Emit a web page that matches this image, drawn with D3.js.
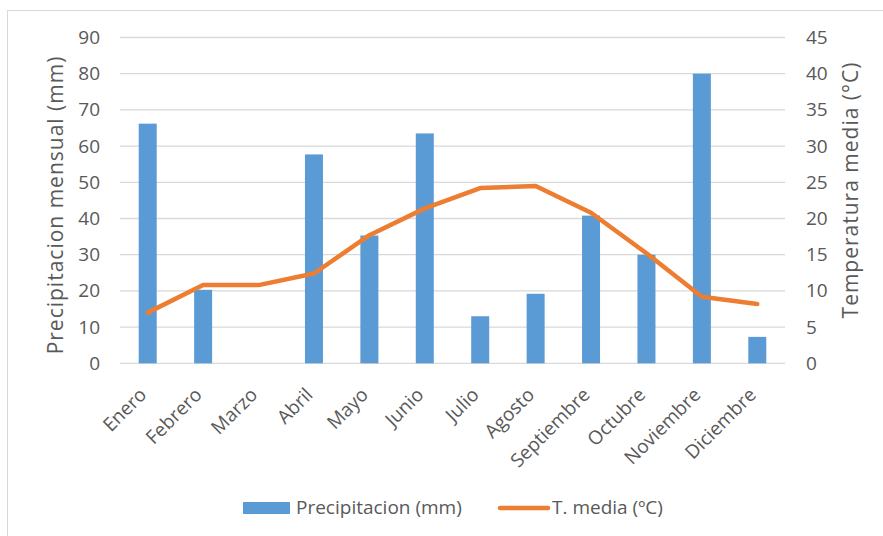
<!DOCTYPE html>
<html><head><meta charset="utf-8">
<script src="https://cdn.jsdelivr.net/npm/d3@7"></script>
<style>body{margin:0;background:#fff}svg{display:block}text{font-family:"Open Sans",sans-serif;fill:#595959}</style>
</head><body>
<script>
const months = ["Enero","Febrero","Marzo","Abril","Mayo","Junio","Julio","Agosto","Septiembre","Octubre","Noviembre","Diciembre"];
const precip = [66.2,20.3,0,57.7,35.3,63.5,13.0,19.2,40.8,30.0,80.0,7.3];
const temp = [7.0,10.8,10.8,12.4,17.7,21.4,24.2,24.5,20.8,15.2,9.2,8.2];
const leftTicks = [0,10,20,30,40,50,60,70,80,90];
const rightTicks = [0,5,10,15,20,25,30,35,40,45];

const W=883,H=536;
const svg=d3.select("body").append("svg").attr("width",W).attr("height",H);
svg.append("rect").attr("x",7.5).attr("y",10.5).attr("width",890).attr("height",540)
  .attr("fill","#fff").attr("stroke","#d9d9d9").attr("stroke-width",1);

const x=d3.scaleBand().domain(months).range([120,785]);
const yL=d3.scaleLinear().domain([0,90]).range([363.3,37.5]);
const yR=d3.scaleLinear().domain([0,45]).range([363.3,37.5]);

// gridlines
svg.append("g").selectAll("line").data(leftTicks).join("line")
  .attr("x1",120).attr("x2",785).attr("y1",d=>yL(d)).attr("y2",d=>yL(d))
  .attr("stroke","#d9d9d9").attr("stroke-width",1.3);

// left axis labels
const gl=svg.append("g").attr("transform","translate(100,0)")
  .call(d3.axisLeft(yL).tickValues(leftTicks).tickSize(0).tickPadding(0));
gl.select(".domain").remove();
gl.selectAll("text").style("font-family","'Open Sans',sans-serif").style("font-size","19px").attr("fill","#595959");

const gr=svg.append("g").attr("transform","translate(806,0)")
  .call(d3.axisRight(yR).tickValues(rightTicks).tickSize(0).tickPadding(0));
gr.select(".domain").remove();
gr.selectAll("text").style("font-family","'Open Sans',sans-serif").style("font-size","19px").attr("fill","#595959");

// bars
const bw=18;
svg.append("g").selectAll("rect").data(months).join("rect")
  .attr("x",(d)=>x(d)+x.bandwidth()/2-bw/2).attr("width",bw)
  .attr("y",(d,i)=>yL(precip[i])).attr("height",(d,i)=>yL(0)-yL(precip[i]))
  .attr("fill","#5b9bd5");

// line
const line=d3.line().x((d,i)=>x(months[i])+x.bandwidth()/2).y(d=>yR(d));
svg.append("path").datum(temp).attr("d",line).attr("fill","none")
  .attr("stroke","#ed7d31").attr("stroke-width",4.5).attr("stroke-linecap","round").attr("stroke-linejoin","round");

// x labels
const gx=svg.append("g").attr("transform","translate(0,363)")
  .call(d3.axisBottom(x).tickSize(0).tickPadding(0));
gx.select(".domain").remove();
gx.selectAll("text").style("font-family","'Open Sans',sans-serif").style("font-size","19px").attr("fill","#595959")
  .attr("text-anchor","end").attr("dy",0).attr("transform","translate(0,33) rotate(-45)");

// axis titles
svg.append("text").attr("transform","translate(63,205) rotate(-90)").attr("text-anchor","middle")
  .style("font-size","21px").style("letter-spacing","1px").text("Precipitacion mensual (mm)");
svg.append("text").attr("transform","translate(858,190) rotate(-90)").attr("text-anchor","middle")
  .style("font-size","21px").style("letter-spacing","1px").text("Temperatura media (°C)");

// legend
svg.append("rect").attr("x",243).attr("y",502).attr("width",47).attr("height",12).attr("fill","#5b9bd5");
svg.append("text").attr("x",296).attr("y",514).style("font-size","19px").text("Precipitacion (mm)");
svg.append("line").attr("x1",500).attr("x2",548).attr("y1",508).attr("y2",508)
  .attr("stroke","#ed7d31").attr("stroke-width",4.5).attr("stroke-linecap","round");
svg.append("text").attr("x",552).attr("y",514).style("font-size","19px").text("T. media (ºC)");
</script>
</body></html>
